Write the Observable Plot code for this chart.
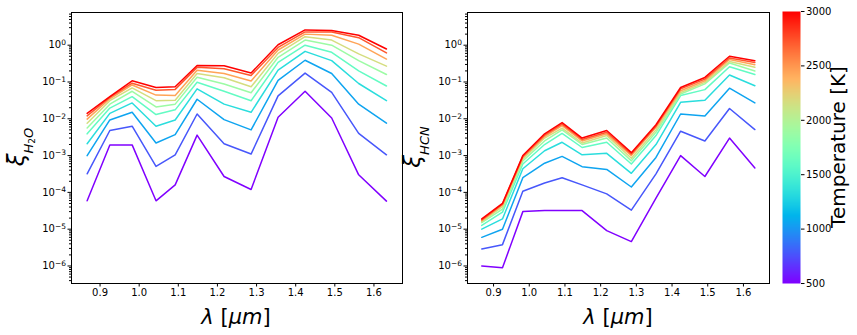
<!DOCTYPE html>
<html><head><meta charset="utf-8">
<script src="https://cdn.jsdelivr.net/npm/d3@7"></script>
<script src="https://cdn.jsdelivr.net/npm/@observablehq/plot@0.6"></script>
<style>
body{margin:0;background:#fff;}
#wrap{position:relative;width:857px;height:335px;font-family:"DejaVu Sans",sans-serif;background:#fff;}
#wrap svg{position:absolute;top:0;overflow:visible;}
</style></head><body><div id="wrap"></div>
<script>
// wavelengths (micron)
const wavelength = [0.867, 0.925, 0.982, 1.043, 1.092, 1.148, 1.217, 1.286, 1.355, 1.424, 1.492, 1.561, 1.632];
// temperatures (K)
const temperatures = [500, 778, 1056, 1333, 1611, 1889, 2167, 2444, 2722, 3000];

// H2O
const h2o_T500  = [5.9e-5, 1.95e-3, 1.95e-3, 5.9e-5, 1.6e-4, 3.6e-3, 2.7e-4, 1.2e-4, 1.1e-2, 5.6e-2, 1.05e-2, 3.0e-4, 5.8e-5];
const h2o_T778  = [3.2e-4, 4.8e-3, 6.3e-3, 5.1e-4, 1.05e-3, 1.35e-2, 2.1e-3, 1.1e-3, 4.2e-2, 1.75e-1, 5.2e-2, 4.0e-3, 1.05e-3];
const h2o_T1056 = [1.0e-3, 9.3e-3, 1.5e-2, 2.2e-3, 3.7e-3, 3.4e-2, 9.5e-3, 5.0e-3, 1.1e-1, 3.9e-1, 1.7e-1, 2.5e-2, 7.6e-3];
const h2o_T1333 = [2.1e-3, 1.4e-2, 2.7e-2, 6.3e-3, 9.3e-3, 6.5e-2, 2.5e-2, 1.5e-2, 2.1e-1, 6.8e-1, 3.8e-1, 9.1e-2, 3.1e-2];
const h2o_T1611 = [3.9e-3, 1.95e-2, 4.0e-2, 1.3e-2, 1.75e-2, 9.8e-2, 5.6e-2, 3.1e-2, 3.4e-1, 1.0, 6.4e-1, 2.0e-1, 7.8e-2];
const h2o_T1889 = [5.6e-3, 2.5e-2, 5.6e-2, 2.1e-2, 2.5e-2, 1.35e-1, 8.8e-2, 5.1e-2, 4.7e-1, 1.38, 1.0, 3.8e-1, 1.6e-1];
const h2o_T2167 = [7.6e-3, 3.1e-2, 6.9e-2, 3.1e-2, 3.2e-2, 1.7e-1, 1.3e-1, 7.4e-2, 6.0e-1, 1.7, 1.38, 5.8e-1, 2.7e-1];
const h2o_T2444 = [9.8e-3, 3.5e-2, 8.3e-2, 4.4e-2, 4.3e-2, 2.1e-1, 1.7e-1, 1.07e-1, 7.4e-1, 2.0, 1.86, 1.07, 4.2e-1];
const h2o_T2722 = [1.2e-2, 3.8e-2, 9.3e-2, 6.0e-2, 6.3e-2, 2.5e-1, 2.3e-1, 1.5e-1, 8.7e-1, 2.3, 2.3, 1.6, 6.2e-1];
const h2o_T3000 = [1.4e-2, 4.0e-2, 1.08e-1, 7.1e-2, 7.4e-2, 2.8e-1, 2.75e-1, 1.75e-1, 1.03, 2.6, 2.5, 1.86, 7.9e-1];

// HCN
const hcn_T500  = [1.0e-6, 8.9e-7, 3.0e-5, 3.2e-5, 3.2e-5, 3.2e-5, 9.1e-6, 4.6e-6, 7.0e-5, 1.0e-3, 2.7e-4, 3.0e-3, 4.6e-4];
const hcn_T778  = [2.9e-6, 3.8e-6, 1.07e-4, 1.8e-4, 2.5e-4, 1.6e-4, 9.1e-5, 3.3e-5, 3.2e-4, 4.6e-3, 2.5e-3, 1.9e-2, 5.1e-3];
const hcn_T1056 = [6.0e-6, 1.0e-5, 2.5e-4, 6.2e-4, 9.5e-4, 5.0e-4, 4.2e-4, 1.4e-4, 8.9e-4, 1.35e-2, 1.2e-2, 6.8e-2, 2.7e-2];
const hcn_T1333 = [1.0e-5, 1.9e-5, 4.4e-4, 1.35e-3, 2.3e-3, 1.05e-3, 1.15e-3, 3.3e-4, 2.0e-3, 2.8e-2, 3.2e-2, 1.55e-1, 7.9e-2];
const hcn_T1611 = [1.26e-5, 2.9e-5, 5.9e-4, 2.0e-3, 4.0e-3, 1.66e-3, 2.3e-3, 5.9e-4, 3.5e-3, 4.3e-2, 6.2e-2, 2.6e-1, 1.6e-1];
const hcn_T1889 = [1.5e-5, 3.5e-5, 7.2e-4, 2.5e-3, 5.0e-3, 2.0e-3, 3.0e-3, 7.2e-4, 4.3e-3, 4.7e-2, 8.9e-2, 3.3e-1, 2.0e-1];
const hcn_T2167 = [1.6e-5, 4.1e-5, 8.1e-4, 3.0e-3, 5.6e-3, 2.2e-3, 3.5e-3, 8.5e-4, 5.0e-3, 5.2e-2, 9.8e-2, 3.6e-1, 2.5e-1];
const hcn_T2444 = [1.7e-5, 4.6e-5, 8.9e-4, 3.3e-3, 6.5e-3, 2.5e-3, 3.9e-3, 1.0e-3, 5.9e-3, 5.8e-2, 1.08e-1, 4.1e-1, 2.95e-1];
const hcn_T2722 = [1.8e-5, 4.8e-5, 9.5e-4, 3.6e-3, 7.2e-3, 2.75e-3, 4.3e-3, 1.1e-3, 6.3e-3, 6.5e-2, 1.2e-1, 4.5e-1, 3.4e-1];
const hcn_T3000 = [1.9e-5, 5.0e-5, 1.0e-3, 3.9e-3, 7.9e-3, 3.0e-3, 4.8e-3, 1.2e-3, 6.9e-3, 7.1e-2, 1.33e-1, 5.0e-1, 3.8e-1];

const xTicks = [0.9, 1.0, 1.1, 1.2, 1.3, 1.4, 1.5, 1.6];
const yTicks = [1e-6, 1e-5, 1e-4, 1e-3, 1e-2, 1e-1, 1e0];
const cbarTicks = [500, 1000, 1500, 2000, 2500, 3000];

const h2oSeries = [h2o_T500, h2o_T778, h2o_T1056, h2o_T1333, h2o_T1611, h2o_T1889, h2o_T2167, h2o_T2444, h2o_T2722, h2o_T3000];
const hcnSeries = [hcn_T500, hcn_T778, hcn_T1056, hcn_T1333, hcn_T1611, hcn_T1889, hcn_T2167, hcn_T2444, hcn_T2722, hcn_T3000];

function toRows(series) {
  return temperatures.flatMap((T, i) => series[i].map((v, j) => ({lambda: wavelength[j], xi: v, T})));
}

// matplotlib "rainbow" colormap
function rainbow(t) {
  const r = Math.min(1, Math.abs(2 * t - 0.5));
  const g = Math.sin(Math.PI * t);
  const b = Math.cos(Math.PI * t / 2);
  return d3.rgb(r * 255, g * 255, b * 255).formatHex();
}
const colorScale = {type: "linear", domain: [500, 3000], interpolate: rainbow};

const yDomain = [3.34e-7, 7.74];
const minorTicks = d3.range(-7, 1).flatMap(k => d3.range(2, 10).map(m => m * Math.pow(10, k)))
  .filter(v => v > yDomain[0] && v < yDomain[1]);

function supFormat(v) { return "10|" + String(Math.round(Math.log10(v))).replace("-", "\u2212"); }

function panel(rows, width, marginLeft, marginRight) {
  return Plot.plot({
    width, height: 335, marginLeft, marginRight, marginTop: 12, marginBottom: 52,
    style: {fontFamily: "DejaVu Sans", fontSize: "10px", color: "#000", background: "transparent", overflow: "visible"},
    x: {domain: [0.827, 1.673]},
    y: {type: "log", domain: yDomain},
    color: colorScale,
    marks: [
      Plot.line(rows, {x: "lambda", y: "xi", z: "T", stroke: "T", strokeWidth: 1.5}),
      Plot.frame({stroke: "#000", strokeWidth: 1}),
      Plot.axisX({ticks: xTicks, tickFormat: d3.format(".1f"), tickSize: 3.5, tickPadding: 2, label: null}),
      Plot.axisY({ticks: minorTicks, tickSize: 2, tickFormat: () => "", label: null}),
      Plot.axisY({ticks: yTicks, tickSize: 3.5, tickPadding: 2, tickFormat: supFormat, label: null})
    ]
  });
}

function fixSup(svg) {
  d3.select(svg).selectAll("text").each(function() {
    const t = this.textContent;
    if (!t.includes("|")) return;
    const [base, exp] = t.split("|");
    const el = d3.select(this);
    el.text(null);
    el.append("tspan").text(base);
    el.append("tspan").attr("dy", "-0.45em").attr("font-size", "7.5px").text(exp);
  });
}

function addLabels(svg, cx, ylabelX, sub) {
  const s = d3.select(svg);
  const xl = s.append("text").attr("x", cx).attr("y", 324).attr("text-anchor", "middle")
    .attr("font-family", "DejaVu Sans").attr("font-size", 21).attr("fill", "#000");
  xl.append("tspan").attr("font-style", "italic").text("\u03bb");
  xl.append("tspan").text(" [");
  xl.append("tspan").attr("font-style", "italic").text("\u03bcm");
  xl.append("tspan").text("]");
  const yl = s.append("text").attr("transform", `translate(${ylabelX},147) rotate(-90)`)
    .attr("text-anchor", "middle").attr("font-family", "DejaVu Sans").attr("fill", "#000");
  yl.append("tspan").attr("font-size", 23).attr("font-style", "italic").text("\u03be");
  sub(yl);
}

const wrap = document.getElementById("wrap");

const left = panel(toRows(h2oSeries), 410, 71, 8);
left.style.left = "0px";
fixSup(left);
addLabels(left, 236, 24, yl => {
  yl.append("tspan").attr("font-size", 13).attr("font-style", "italic").attr("dy", 9).text("H");
  yl.append("tspan").attr("font-size", 9).attr("dy", 2).text("2");
  yl.append("tspan").attr("font-size", 13).attr("font-style", "italic").attr("dy", -2).text("O");
});
wrap.appendChild(left);

const right = panel(toRows(hcnSeries), 370, 57, 11);
right.style.left = "410px";
fixSup(right);
addLabels(right, 208, 10, yl => {
  yl.append("tspan").attr("font-size", 13).attr("font-style", "italic").attr("dy", 9).text("HCN");
});
wrap.appendChild(right);

const cbar = Plot.plot({
  width: 77, height: 335, marginLeft: 2, marginRight: 57, marginTop: 11, marginBottom: 52,
  style: {fontFamily: "DejaVu Sans", fontSize: "10px", color: "#000", background: "transparent", overflow: "visible"},
  x: {domain: [0, 1], axis: null},
  y: {domain: [500, 3000], axis: null},
  color: colorScale,
  marks: [
    Plot.raster({fill: (x, y) => y, x1: 0, x2: 1, y1: 500, y2: 3000, width: 1, height: 272, imageRendering: "auto"}),
    Plot.axisY({anchor: "right", ticks: cbarTicks, tickFormat: d => String(d), tickSize: 3.5, tickPadding: 2, label: null})
  ]
});
cbar.style.left = "780px";
d3.select(cbar).append("text").attr("transform", "translate(65,147) rotate(-90)")
  .attr("text-anchor", "middle").attr("font-family", "DejaVu Sans").attr("font-size", 20)
  .attr("fill", "#000").text("Temperature [K]");
wrap.appendChild(cbar);
</script></body></html>
